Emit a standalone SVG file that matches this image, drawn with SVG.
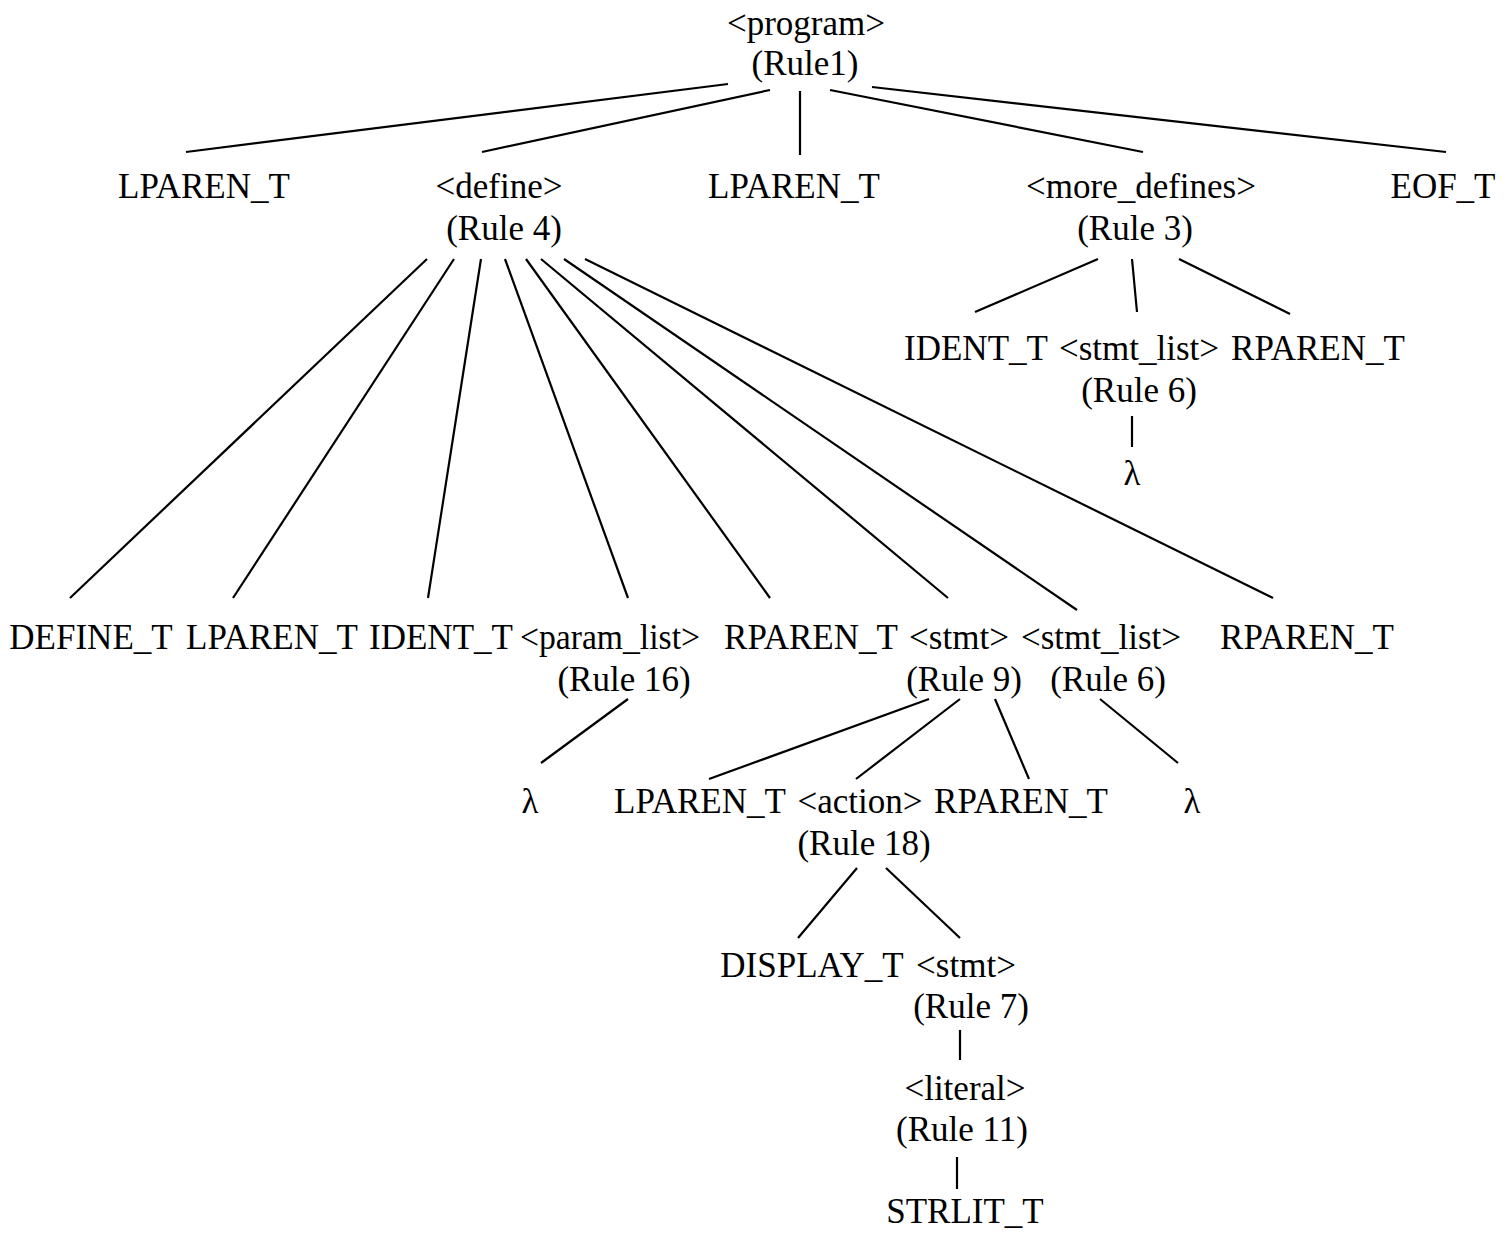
<svg xmlns="http://www.w3.org/2000/svg" width="1509" height="1239" viewBox="0 0 1509 1239">
<style>
text{font-family:"Liberation Serif","Times New Roman",serif;font-size:35px;fill:#000;text-anchor:middle}
.e line{stroke:#000;stroke-width:2.2;stroke-linecap:butt}
</style>
<rect width="1509" height="1239" fill="#fff"/>
<g class="e" id="connectors">
<line x1="728" y1="84" x2="186" y2="152"/>
<line x1="770" y1="90" x2="482" y2="152"/>
<line x1="800" y1="91" x2="800" y2="155"/>
<line x1="830" y1="90" x2="1143" y2="152"/>
<line x1="872" y1="87" x2="1446" y2="152"/>
<line x1="427" y1="259" x2="70" y2="598"/>
<line x1="454" y1="259" x2="233" y2="598"/>
<line x1="481" y1="259" x2="428" y2="598"/>
<line x1="505" y1="259" x2="628" y2="598"/>
<line x1="526" y1="259" x2="770" y2="598"/>
<line x1="541" y1="259" x2="948" y2="598"/>
<line x1="564" y1="259" x2="1077" y2="610"/>
<line x1="585" y1="259" x2="1273" y2="598"/>
<line x1="1098" y1="259" x2="975" y2="312"/>
<line x1="1132" y1="259" x2="1137" y2="312"/>
<line x1="1179" y1="259" x2="1290" y2="314"/>
<line x1="1132" y1="416" x2="1132" y2="447"/>
<line x1="628" y1="699" x2="541" y2="763"/>
<line x1="929" y1="699" x2="709" y2="779"/>
<line x1="960" y1="699" x2="856" y2="779"/>
<line x1="995" y1="699" x2="1029" y2="779"/>
<line x1="1100" y1="699" x2="1178" y2="763"/>
<line x1="857" y1="868" x2="798" y2="938"/>
<line x1="886" y1="868" x2="960" y2="938"/>
<line x1="960" y1="1030" x2="960" y2="1060"/>
<line x1="957" y1="1157" x2="957" y2="1189"/>
</g>
<g id="program"><text x="806" y="35">&lt;program&gt;</text><text x="805" y="75">(Rule1)</text></g>
<g id="lparen1"><text x="204" y="198">LPAREN_T</text></g>
<g id="define"><text x="499" y="198">&lt;define&gt;</text><text x="504" y="240">(Rule 4)</text></g>
<g id="lparen2"><text x="794" y="198">LPAREN_T</text></g>
<g id="more_defines"><text x="1141" y="198">&lt;more_defines&gt;</text><text x="1135" y="240">(Rule 3)</text></g>
<g id="eof"><text x="1443" y="198">EOF_T</text></g>
<g id="ident2"><text x="976" y="360">IDENT_T</text></g>
<g id="stmt_list2"><text x="1139" y="360">&lt;stmt_list&gt;</text><text x="1139" y="402">(Rule 6)</text></g>
<g id="rparen3"><text x="1318" y="360">RPAREN_T</text></g>
<g id="lambda3"><text x="1132" y="485">λ</text></g>
<g id="define_t"><text x="91" y="649">DEFINE_T</text></g>
<g id="lparen3"><text x="272" y="649">LPAREN_T</text></g>
<g id="ident1"><text x="441" y="649">IDENT_T</text></g>
<g id="param_list"><text x="610" y="649" textLength="180" lengthAdjust="spacingAndGlyphs">&lt;param_list&gt;</text><text x="624" y="691">(Rule 16)</text></g>
<g id="rparen1"><text x="811" y="649">RPAREN_T</text></g>
<g id="stmt1"><text x="959" y="649">&lt;stmt&gt;</text><text x="964" y="691">(Rule 9)</text></g>
<g id="stmt_list1"><text x="1101" y="649">&lt;stmt_list&gt;</text><text x="1108" y="691">(Rule 6)</text></g>
<g id="rparen2"><text x="1307" y="649">RPAREN_T</text></g>
<g id="lambda1"><text x="530" y="813">λ</text></g>
<g id="lparen4"><text x="700" y="813">LPAREN_T</text></g>
<g id="action"><text x="860" y="813">&lt;action&gt;</text><text x="864" y="855">(Rule 18)</text></g>
<g id="rparen4"><text x="1021" y="813">RPAREN_T</text></g>
<g id="lambda2"><text x="1192" y="813">λ</text></g>
<g id="display"><text x="812" y="977">DISPLAY_T</text></g>
<g id="stmt2"><text x="966" y="977">&lt;stmt&gt;</text><text x="971" y="1018">(Rule 7)</text></g>
<g id="literal"><text x="965" y="1100">&lt;literal&gt;</text><text x="962" y="1141">(Rule 11)</text></g>
<g id="strlit"><text x="965" y="1223">STRLIT_T</text></g>
</svg>
